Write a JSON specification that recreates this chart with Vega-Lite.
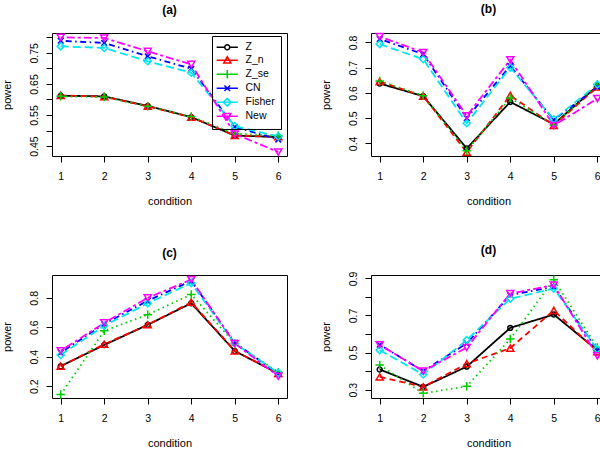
{
  "$schema": "https://vega.github.io/schema/vega-lite/v6.json",
  "background": "white",
  "padding": {"left": 0, "top": 2, "right": 0, "bottom": 0},
  "config": {
    "font": "Liberation Sans",
    "view": {"stroke": "black", "strokeWidth": 1},
    "axis": {"domain": false, "grid": false, "tickColor": "black", "tickSize": 6, "tickWidth": 1,
      "labelColor": "black", "labelFont": "Liberation Sans", "labelFontSize": 10.5, "labelFlush": false, "labelOverlap": false,
      "titleFont": "Liberation Sans", "titleFontSize": 11, "titleFontWeight": "normal", "titleColor": "black"},
    "axisX": {"labelPadding": 9, "titlePadding": 14},
    "axisY": {"labelAngle": -90, "labelAlign": "center", "labelBaseline": "bottom", "labelPadding": 7, "titlePadding": 17},
    "title": {"font": "Liberation Sans", "fontSize": 12, "fontWeight": "bold", "color": "black", "offset": 14}
  },
  "datasets": {
    "d": [
      {"panel":"a","method":"Z","condition":1,"power":0.612},{"panel":"a","method":"Z","condition":2,"power":0.610},{"panel":"a","method":"Z","condition":3,"power":0.579},{"panel":"a","method":"Z","condition":4,"power":0.543},{"panel":"a","method":"Z","condition":5,"power":0.484},{"panel":"a","method":"Z","condition":6,"power":0.479},
      {"panel":"a","method":"Z_n","condition":1,"power":0.613},{"panel":"a","method":"Z_n","condition":2,"power":0.609},{"panel":"a","method":"Z_n","condition":3,"power":0.578},{"panel":"a","method":"Z_n","condition":4,"power":0.543},{"panel":"a","method":"Z_n","condition":5,"power":0.484},{"panel":"a","method":"Z_n","condition":6,"power":0.480},
      {"panel":"a","method":"Z_se","condition":1,"power":0.610},{"panel":"a","method":"Z_se","condition":2,"power":0.608},{"panel":"a","method":"Z_se","condition":3,"power":0.578},{"panel":"a","method":"Z_se","condition":4,"power":0.545},{"panel":"a","method":"Z_se","condition":5,"power":0.490},{"panel":"a","method":"Z_se","condition":6,"power":0.483},
      {"panel":"a","method":"CN","condition":1,"power":0.789},{"panel":"a","method":"CN","condition":2,"power":0.782},{"panel":"a","method":"CN","condition":3,"power":0.739},{"panel":"a","method":"CN","condition":4,"power":0.699},{"panel":"a","method":"CN","condition":5,"power":0.512},{"panel":"a","method":"CN","condition":6,"power":0.471},
      {"panel":"a","method":"Fisher","condition":1,"power":0.771},{"panel":"a","method":"Fisher","condition":2,"power":0.766},{"panel":"a","method":"Fisher","condition":3,"power":0.723},{"panel":"a","method":"Fisher","condition":4,"power":0.686},{"panel":"a","method":"Fisher","condition":5,"power":0.514},{"panel":"a","method":"Fisher","condition":6,"power":0.481},
      {"panel":"a","method":"New","condition":1,"power":0.800},{"panel":"a","method":"New","condition":2,"power":0.798},{"panel":"a","method":"New","condition":3,"power":0.755},{"panel":"a","method":"New","condition":4,"power":0.713},{"panel":"a","method":"New","condition":5,"power":0.489},{"panel":"a","method":"New","condition":6,"power":0.431},

      {"panel":"b","method":"Z","condition":1,"power":0.637},{"panel":"b","method":"Z","condition":2,"power":0.587},{"panel":"b","method":"Z","condition":3,"power":0.380},{"panel":"b","method":"Z","condition":4,"power":0.564},{"panel":"b","method":"Z","condition":5,"power":0.476},{"panel":"b","method":"Z","condition":6,"power":0.627},
      {"panel":"b","method":"Z_n","condition":1,"power":0.645},{"panel":"b","method":"Z_n","condition":2,"power":0.587},{"panel":"b","method":"Z_n","condition":3,"power":0.365},{"panel":"b","method":"Z_n","condition":4,"power":0.590},{"panel":"b","method":"Z_n","condition":5,"power":0.471},{"panel":"b","method":"Z_n","condition":6,"power":0.623},
      {"panel":"b","method":"Z_se","condition":1,"power":0.647},{"panel":"b","method":"Z_se","condition":2,"power":0.589},{"panel":"b","method":"Z_se","condition":3,"power":0.371},{"panel":"b","method":"Z_se","condition":4,"power":0.580},{"panel":"b","method":"Z_se","condition":5,"power":0.473},{"panel":"b","method":"Z_se","condition":6,"power":0.633},
      {"panel":"b","method":"CN","condition":1,"power":0.813},{"panel":"b","method":"CN","condition":2,"power":0.753},{"panel":"b","method":"CN","condition":3,"power":0.500},{"panel":"b","method":"CN","condition":4,"power":0.707},{"panel":"b","method":"CN","condition":5,"power":0.493},{"panel":"b","method":"CN","condition":6,"power":0.623},
      {"panel":"b","method":"Fisher","condition":1,"power":0.793},{"panel":"b","method":"Fisher","condition":2,"power":0.733},{"panel":"b","method":"Fisher","condition":3,"power":0.480},{"panel":"b","method":"Fisher","condition":4,"power":0.700},{"panel":"b","method":"Fisher","condition":5,"power":0.495},{"panel":"b","method":"Fisher","condition":6,"power":0.633},
      {"panel":"b","method":"New","condition":1,"power":0.823},{"panel":"b","method":"New","condition":2,"power":0.760},{"panel":"b","method":"New","condition":3,"power":0.509},{"panel":"b","method":"New","condition":4,"power":0.731},{"panel":"b","method":"New","condition":5,"power":0.471},{"panel":"b","method":"New","condition":6,"power":0.577},

      {"panel":"c","method":"Z","condition":1,"power":0.336},{"panel":"c","method":"Z","condition":2,"power":0.480},{"panel":"c","method":"Z","condition":3,"power":0.617},{"panel":"c","method":"Z","condition":4,"power":0.763},{"panel":"c","method":"Z","condition":5,"power":0.439},{"panel":"c","method":"Z","condition":6,"power":0.286},
      {"panel":"c","method":"Z_n","condition":1,"power":0.336},{"panel":"c","method":"Z_n","condition":2,"power":0.485},{"panel":"c","method":"Z_n","condition":3,"power":0.617},{"panel":"c","method":"Z_n","condition":4,"power":0.770},{"panel":"c","method":"Z_n","condition":5,"power":0.440},{"panel":"c","method":"Z_n","condition":6,"power":0.286},
      {"panel":"c","method":"Z_se","condition":1,"power":0.143},{"panel":"c","method":"Z_se","condition":2,"power":0.576},{"panel":"c","method":"Z_se","condition":3,"power":0.686},{"panel":"c","method":"Z_se","condition":4,"power":0.823},{"panel":"c","method":"Z_se","condition":5,"power":0.490},{"panel":"c","method":"Z_se","condition":6,"power":0.295},
      {"panel":"c","method":"CN","condition":1,"power":0.428},{"panel":"c","method":"CN","condition":2,"power":0.622},{"panel":"c","method":"CN","condition":3,"power":0.780},{"panel":"c","method":"CN","condition":4,"power":0.915},{"panel":"c","method":"CN","condition":5,"power":0.496},{"panel":"c","method":"CN","condition":6,"power":0.284},
      {"panel":"c","method":"Fisher","condition":1,"power":0.412},{"panel":"c","method":"Fisher","condition":2,"power":0.610},{"panel":"c","method":"Fisher","condition":3,"power":0.763},{"panel":"c","method":"Fisher","condition":4,"power":0.900},{"panel":"c","method":"Fisher","condition":5,"power":0.490},{"panel":"c","method":"Fisher","condition":6,"power":0.290},
      {"panel":"c","method":"New","condition":1,"power":0.440},{"panel":"c","method":"New","condition":2,"power":0.630},{"panel":"c","method":"New","condition":3,"power":0.800},{"panel":"c","method":"New","condition":4,"power":0.924},{"panel":"c","method":"New","condition":5,"power":0.490},{"panel":"c","method":"New","condition":6,"power":0.268},

      {"panel":"d","method":"Z","condition":1,"power":0.409},{"panel":"d","method":"Z","condition":2,"power":0.315},{"panel":"d","method":"Z","condition":3,"power":0.424},{"panel":"d","method":"Z","condition":4,"power":0.633},{"panel":"d","method":"Z","condition":5,"power":0.705},{"panel":"d","method":"Z","condition":6,"power":0.513},
      {"panel":"d","method":"Z_n","condition":1,"power":0.369},{"panel":"d","method":"Z_n","condition":2,"power":0.315},{"panel":"d","method":"Z_n","condition":3,"power":0.440},{"panel":"d","method":"Z_n","condition":4,"power":0.524},{"panel":"d","method":"Z_n","condition":5,"power":0.727},{"panel":"d","method":"Z_n","condition":6,"power":0.505},
      {"panel":"d","method":"Z_se","condition":1,"power":0.433},{"panel":"d","method":"Z_se","condition":2,"power":0.280},{"panel":"d","method":"Z_se","condition":3,"power":0.318},{"panel":"d","method":"Z_se","condition":4,"power":0.573},{"panel":"d","method":"Z_se","condition":5,"power":0.893},{"panel":"d","method":"Z_se","condition":6,"power":0.527},
      {"panel":"d","method":"CN","condition":1,"power":0.542},{"panel":"d","method":"CN","condition":2,"power":0.400},{"panel":"d","method":"CN","condition":3,"power":0.549},{"panel":"d","method":"CN","condition":4,"power":0.809},{"panel":"d","method":"CN","condition":5,"power":0.855},{"panel":"d","method":"CN","condition":6,"power":0.513},
      {"panel":"d","method":"Fisher","condition":1,"power":0.513},{"panel":"d","method":"Fisher","condition":2,"power":0.382},{"panel":"d","method":"Fisher","condition":3,"power":0.567},{"panel":"d","method":"Fisher","condition":4,"power":0.790},{"panel":"d","method":"Fisher","condition":5,"power":0.845},{"panel":"d","method":"Fisher","condition":6,"power":0.518},
      {"panel":"d","method":"New","condition":1,"power":0.542},{"panel":"d","method":"New","condition":2,"power":0.400},{"panel":"d","method":"New","condition":3,"power":0.527},{"panel":"d","method":"New","condition":4,"power":0.818},{"panel":"d","method":"New","condition":5,"power":0.864},{"panel":"d","method":"New","condition":6,"power":0.482}
    ]
  },
  "columns": 2,
  "spacing": {"row": 36, "column": 31},
  "resolve": {"scale": {"y": "independent", "color": "independent", "shape": "independent", "strokeDash": "independent"}, "legend": {"color": "independent", "shape": "independent", "strokeDash": "independent"}},
  "concat": [
    {
      "width": 235, "height": 123, "title": "(a)",
      "data": {"name": "d"},
      "transform": [{"filter": "datum.panel === 'a'"}],
      "encoding": {
        "x": {"field": "condition", "type": "quantitative", "scale": {"domain": [0.8, 6.2], "nice": false, "zero": false}, "axis": {"values": [1,2,3,4,5,6], "format": "d", "title": "condition"}},
        "y": {"field": "power", "type": "quantitative", "scale": {"domain": [0.418, 0.814], "nice": false, "zero": false}, "axis": {"values": [0.45,0.5,0.55,0.6,0.65,0.7,0.75,0.8], "format": ".2f", "labelExpr": "indexof(['0.45','0.55','0.65','0.75'], datum.label) >= 0 ? datum.label : ''", "title": "power"}}
      },
      "resolve": {"scale": {"shape": "independent", "color": "independent"}, "legend": {"shape": "independent", "color": "independent"}},
      "layer": [
        {"mark": {"type": "line", "strokeWidth": 1.8}, "encoding": {
          "color": {"field": "method", "type": "nominal", "scale": {"domain": ["Z","Z_n","Z_se","CN","Fisher","New"], "range": ["#000000","#FF0000","#00CD00","#0000FF","#00E5EE","#FF00FF"]}, "legend": null},
          "strokeDash": {"field": "method", "type": "nominal", "scale": {"domain": ["Z","Z_n","Z_se","CN","Fisher","New"], "range": [[1,0],[6,4],[1.5,3.5],[1.5,3.5,6,3.5],[8,4],[3,3,8,3]]}, "legend": null}}},
        {"mark": {"type": "point", "filled": false, "size": 50, "strokeWidth": 1.5, "opacity": 1}, "encoding": {
          "color": {"field": "method", "type": "nominal", "scale": {"domain": ["Z","Z_n","Z_se","CN","Fisher","New"], "range": ["#000000","#FF0000","#00CD00","#0000FF","#00E5EE","#FF00FF"]}, "legend": null},
          "shape": {"field": "method", "type": "nominal", "scale": {"domain": ["Z","Z_n","Z_se","CN","Fisher","New"], "range": ["M-0.7,0A0.7,0.7 0 1,0 0.7,0A0.7,0.7 0 1,0 -0.7,0","triangle-up","M-1.2,0L1.2,0M0,-1.2L0,1.2","M-0.8,-0.8L0.8,0.8M-0.8,0.8L0.8,-0.8","diamond","triangle-down"]}, "legend": null}}},
        {"transform": [{"filter": "datum.panel === 'none'"}],
         "mark": {"type": "point", "filled": false, "size": 50, "strokeWidth": 1.5, "opacity": 1},
         "encoding": {
          "color": {"field": "method", "type": "nominal", "scale": {"domain": ["Z","Z_n","Z_se","CN","Fisher","New"], "range": ["#000000","#FF0000","#00CD00","#0000FF","#00E5EE","#FF00FF"]},
            "legend": {"title": null, "orient": "none", "legendX": 160, "legendY": 3, "strokeColor": "black", "padding": 6, "rowPadding": 0, "labelFont": "Liberation Sans", "labelFontSize": 10.5, "labelColor": "black", "symbolOffset": 4, "labelOffset": 13, "symbolStrokeWidth": 1.5, "symbolSize": 50}},
          "shape": {"field": "method", "type": "nominal", "scale": {"domain": ["Z","Z_n","Z_se","CN","Fisher","New"], "range": ["M-3,0L-0.7,0M0.7,0L3,0M-0.7,0A0.7,0.7 0 1,0 0.7,0A0.7,0.7 0 1,0 -0.7,0","M-3,0L3,0M0,-1L1,0.8L-1,0.8Z","M-3,0L3,0M0,-1.2L0,1.2","M-3,0L3,0M-0.8,-0.8L0.8,0.8M-0.8,0.8L0.8,-0.8","M-3,0L3,0M0,-1.1L1.1,0L0,1.1L-1.1,0Z","M-3,0L3,0M0,1L1,-0.8L-1,-0.8Z"]},
            "legend": {"title": null, "orient": "none", "legendX": 160, "legendY": 3, "strokeColor": "black", "padding": 6, "rowPadding": 0, "labelFont": "Liberation Sans", "labelFontSize": 10.5, "labelColor": "black", "symbolOffset": 4, "labelOffset": 13, "symbolStrokeWidth": 1.5, "symbolSize": 50}}}}
      ]
    },
    {
      "width": 235, "height": 123, "title": "(b)",
      "data": {"name": "d"},
      "transform": [{"filter": "datum.panel === 'b'"}],
      "encoding": {
        "x": {"field": "condition", "type": "quantitative", "scale": {"domain": [0.8, 6.2], "nice": false, "zero": false}, "axis": {"values": [1,2,3,4,5,6], "format": "d", "title": "condition"}},
        "y": {"field": "power", "type": "quantitative", "scale": {"domain": [0.35, 0.837], "nice": false, "zero": false}, "axis": {"values": [0.4,0.5,0.6,0.7,0.8], "format": ".1f", "title": "power"}},
        "color": {"field": "method", "type": "nominal", "scale": {"domain": ["Z","Z_n","Z_se","CN","Fisher","New"], "range": ["#000000","#FF0000","#00CD00","#0000FF","#00E5EE","#FF00FF"]}, "legend": null}
      },
      "layer": [
        {"mark": {"type": "line", "strokeWidth": 1.8}, "encoding": {"strokeDash": {"field": "method", "type": "nominal", "scale": {"domain": ["Z","Z_n","Z_se","CN","Fisher","New"], "range": [[1,0],[6,4],[1.5,3.5],[1.5,3.5,6,3.5],[8,4],[3,3,8,3]]}, "legend": null}}},
        {"mark": {"type": "point", "filled": false, "size": 50, "strokeWidth": 1.5, "opacity": 1}, "encoding": {"shape": {"field": "method", "type": "nominal", "scale": {"domain": ["Z","Z_n","Z_se","CN","Fisher","New"], "range": ["M-0.7,0A0.7,0.7 0 1,0 0.7,0A0.7,0.7 0 1,0 -0.7,0","triangle-up","M-1.2,0L1.2,0M0,-1.2L0,1.2","M-0.8,-0.8L0.8,0.8M-0.8,0.8L0.8,-0.8","diamond","triangle-down"]}, "legend": null}}}
      ]
    },
    {
      "width": 235, "height": 123, "title": "(c)",
      "data": {"name": "d"},
      "transform": [{"filter": "datum.panel === 'c'"}],
      "encoding": {
        "x": {"field": "condition", "type": "quantitative", "scale": {"domain": [0.8, 6.2], "nice": false, "zero": false}, "axis": {"values": [1,2,3,4,5,6], "format": "d", "title": "condition"}},
        "y": {"field": "power", "type": "quantitative", "scale": {"domain": [0.12, 0.955], "nice": false, "zero": false}, "axis": {"values": [0.2,0.4,0.6,0.8], "format": ".1f", "title": "power"}},
        "color": {"field": "method", "type": "nominal", "scale": {"domain": ["Z","Z_n","Z_se","CN","Fisher","New"], "range": ["#000000","#FF0000","#00CD00","#0000FF","#00E5EE","#FF00FF"]}, "legend": null}
      },
      "layer": [
        {"mark": {"type": "line", "strokeWidth": 1.8}, "encoding": {"strokeDash": {"field": "method", "type": "nominal", "scale": {"domain": ["Z","Z_n","Z_se","CN","Fisher","New"], "range": [[1,0],[6,4],[1.5,3.5],[1.5,3.5,6,3.5],[8,4],[3,3,8,3]]}, "legend": null}}},
        {"mark": {"type": "point", "filled": false, "size": 50, "strokeWidth": 1.5, "opacity": 1}, "encoding": {"shape": {"field": "method", "type": "nominal", "scale": {"domain": ["Z","Z_n","Z_se","CN","Fisher","New"], "range": ["M-0.7,0A0.7,0.7 0 1,0 0.7,0A0.7,0.7 0 1,0 -0.7,0","triangle-up","M-1.2,0L1.2,0M0,-1.2L0,1.2","M-0.8,-0.8L0.8,0.8M-0.8,0.8L0.8,-0.8","diamond","triangle-down"]}, "legend": null}}}
      ]
    },
    {
      "width": 235, "height": 123, "title": "(d)",
      "data": {"name": "d"},
      "transform": [{"filter": "datum.panel === 'd'"}],
      "encoding": {
        "x": {"field": "condition", "type": "quantitative", "scale": {"domain": [0.8, 6.2], "nice": false, "zero": false}, "axis": {"values": [1,2,3,4,5,6], "format": "d", "title": "condition"}},
        "y": {"field": "power", "type": "quantitative", "scale": {"domain": [0.255, 0.918], "nice": false, "zero": false}, "axis": {"values": [0.3,0.4,0.5,0.6,0.7,0.8,0.9], "format": ".1f", "labelExpr": "indexof(['0.3','0.5','0.7','0.9'], datum.label) >= 0 ? datum.label : ''", "title": "power"}},
        "color": {"field": "method", "type": "nominal", "scale": {"domain": ["Z","Z_n","Z_se","CN","Fisher","New"], "range": ["#000000","#FF0000","#00CD00","#0000FF","#00E5EE","#FF00FF"]}, "legend": null}
      },
      "layer": [
        {"mark": {"type": "line", "strokeWidth": 1.8}, "encoding": {"strokeDash": {"field": "method", "type": "nominal", "scale": {"domain": ["Z","Z_n","Z_se","CN","Fisher","New"], "range": [[1,0],[6,4],[1.5,3.5],[1.5,3.5,6,3.5],[8,4],[3,3,8,3]]}, "legend": null}}},
        {"mark": {"type": "point", "filled": false, "size": 50, "strokeWidth": 1.5, "opacity": 1}, "encoding": {"shape": {"field": "method", "type": "nominal", "scale": {"domain": ["Z","Z_n","Z_se","CN","Fisher","New"], "range": ["M-0.7,0A0.7,0.7 0 1,0 0.7,0A0.7,0.7 0 1,0 -0.7,0","triangle-up","M-1.2,0L1.2,0M0,-1.2L0,1.2","M-0.8,-0.8L0.8,0.8M-0.8,0.8L0.8,-0.8","diamond","triangle-down"]}, "legend": null}}}
      ]
    }
  ]
}
